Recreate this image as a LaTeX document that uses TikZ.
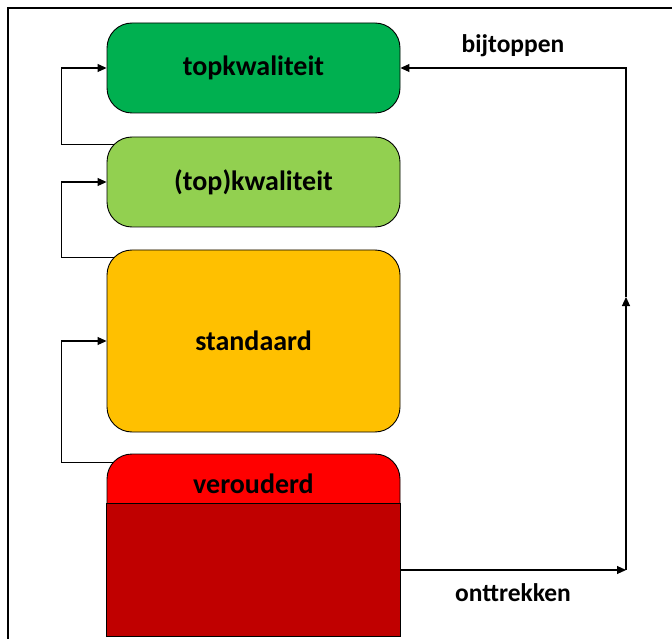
\documentclass[tikz,border=0pt]{standalone}
\usepackage{fontspec}
\setmainfont{Carlito}
\usetikzlibrary{arrows.meta,calc,backgrounds}

\definecolor{cTop}{HTML}{00B050}
\definecolor{cGood}{HTML}{92D050}
\definecolor{cStd}{HTML}{FFC000}
\definecolor{cOld}{HTML}{FF0000}
\definecolor{cOldDark}{HTML}{C00000}

\tikzset{
  level/.style={draw=black, line width=0.9pt, rounded corners=25pt,
    minimum width=293pt, inner sep=0pt,
    font=\fontsize{28}{32}\selectfont\bfseries},
  conn/.style={draw=black, line width=1.1pt,
    -{Triangle[length=9pt,width=8pt]}},
  lbl/.style={font=\fontsize{25.5}{30}\selectfont\bfseries, inner sep=0pt},
}

\begin{document}
\begin{tikzpicture}[x=1pt, y=-1pt]
  \useasboundingbox (0,0) rectangle (672,639);

  % frame
  \draw[line width=2pt] (8,639) -- (8,8) -- (672,8);

  % quality levels
  \node[level, fill=cTop,  minimum height=90pt]  (top)  at (253.5,68)  {topkwaliteit};
  \node[level, fill=cGood, minimum height=90pt]  (good) at (253.5,182) {(top)kwaliteit};
  \node[level, fill=cStd,  minimum height=182pt] (std)  at (253.5,341) {standaard};
  \node[level, fill=cOld,  minimum height=182pt] (old)  at (253.5,545) {};
  \draw[line width=0.9pt, fill=cOldDark] ($(old.north west)+(0,50)$) rectangle (old.south east);
  \node[inner sep=0pt, font=\fontsize{28}{32}\selectfont\bfseries] (oldlbl) at ($(old.north)+(0,30)$) {verouderd};

  % upgrades along the left side, tucked under the boxes
  \begin{scope}[on background layer]
    \fill[white] (0,0) rectangle (672,639);
    \draw[conn] ($(good.north west)+(15,8)$) -| ($(top.west)+(-45,0)$) -- (top.west);
    \draw[conn] ($(std.north west)+(15,8)$) -| ($(good.west)+(-45,0)$) -- (good.west);
    \draw[conn] ($(old.north west)+(15,9)$) -| ($(std.west)+(-45,0)$) -- (std.west);
  \end{scope}

  % withdraw and top up along the right side
  \coordinate (turn) at (626,570);
  \coordinate (mid) at (626,297);
  \draw[conn] ($(old.east)+(0,25)$) -- (turn);
  \draw[conn] (turn) -- (mid);
  \draw[conn] (mid) |- (top.east);

  \node[lbl] (lblup)  at (513,46)  {bijtoppen};
  \node[lbl] (lbloff) at (513,593) {onttrekken};
\end{tikzpicture}
\end{document}
